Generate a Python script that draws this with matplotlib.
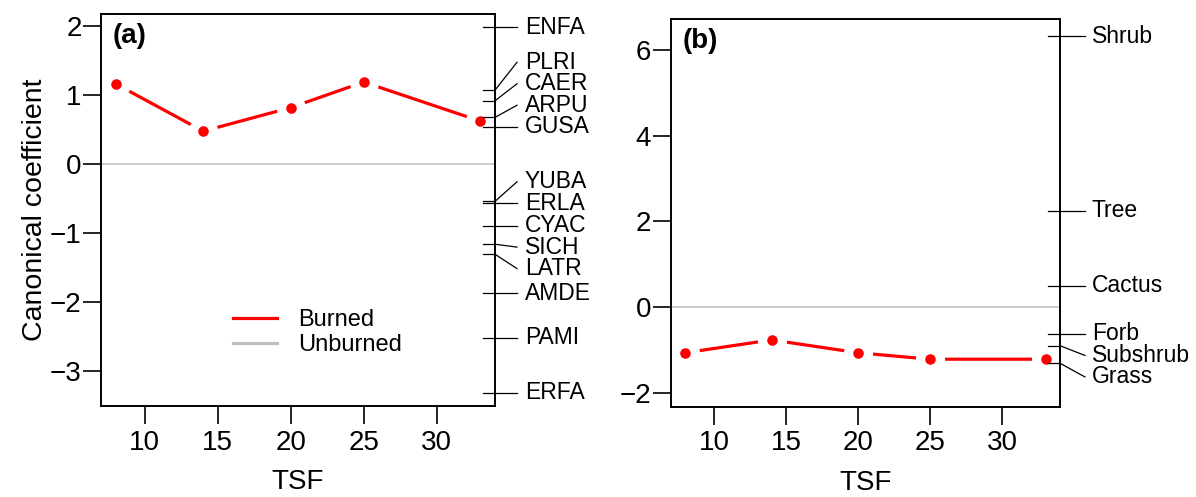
import matplotlib
matplotlib.use('agg')
import matplotlib.pyplot as plt
import matplotlib.transforms as mtransforms
from matplotlib.lines import Line2D

plt.rcParams['font.family'] = ['Liberation Sans', 'DejaVu Sans']

# time since fire (years)
tsf = [8, 14, 20, 25, 33]

# PRC curves, burned vs unburned (unburned is the zero line)
burned_a = [1.16, 0.475, 0.816, 1.186, 0.62]
burned_b = [-1.06, -0.76, -1.06, -1.21, -1.21]

# species weights, panel (a)
species_a = ['ENFA', 'PLRI', 'CAER', 'ARPU', 'GUSA', 'YUBA', 'ERLA',
             'CYAC', 'SICH', 'LATR', 'AMDE', 'PAMI', 'ERFA']
scores_a = [1.975, 1.069, 0.915, 0.675, 0.539, -0.54, -0.568,
            -0.891, -1.16, -1.305, -1.868, -2.51, -3.305]

# growth form weights, panel (b)
groups_b = ['Shrub', 'Tree', 'Cactus', 'Forb', 'Subshrub', 'Grass']
scores_b = [6.32, 2.245, 0.50, -0.622, -0.895, -1.305]

W, H = 1196, 497
fig = plt.figure(figsize=(W / 100, H / 100), dpi=100)


def linestack(vals, ht):
    # same idea as vegan::linestack - spread labels so they dont overlap
    order = sorted(range(len(vals)), key=lambda i: vals[i])
    x = [vals[i] for i in order]
    n = len(x)
    pos = [0.0] * n
    mid = (n + 1) // 2 - 1
    pos[mid] = x[mid]
    for i in range(mid + 1, n):
        pos[i] = max(x[i], pos[i - 1] + ht)
    for i in range(mid - 1, -1, -1):
        pos[i] = min(x[i], pos[i + 1] - ht)
    out = [0.0] * n
    for k, i in enumerate(order):
        out[i] = pos[k]
    return out


def panel(rect, yvals, ylim, yticks, names, scores, tag, conn, txt_off):
    ax = fig.add_axes(rect)
    ax.set_xlim(7, 34)
    ax.set_ylim(*ylim)
    ax.axhline(0, color='#BEBEBE', lw=1.1, zorder=1)
    ax.plot(tsf, yvals, color='red', lw=2.3, zorder=3, solid_capstyle='butt')
    ax.plot(tsf, yvals, 'o', ms=21, color='white', mec='none', zorder=3.1)
    ax.plot(tsf, yvals, 'o', ms=7.6, color='red', mec='none', zorder=3.2)

    ax.set_xticks([10, 15, 20, 25, 30])
    ax.set_yticks(yticks)
    ax.tick_params(axis='both', length=13, width=1.2, labelsize=20)
    ax.tick_params(axis='x', pad=4)
    ax.tick_params(axis='y', pad=1)
    for sp in ax.spines.values():
        sp.set_linewidth(1.4)
        sp.set_zorder(4)
    ax.set_xlabel('TSF', fontsize=20, labelpad=9.5)
    ax.text(0.03, 0.944, tag, transform=ax.transAxes, ha='left', va='center',
            fontsize=20, fontweight='bold')

    # species axis on the right
    axw = rect[2] * W
    axh = rect[3] * H
    ht = 21.5 * (ylim[1] - ylim[0]) / axh
    pos = linestack(scores, ht)
    trans = mtransforms.blended_transform_factory(ax.transAxes, ax.transData)
    for name, s, p in zip(names, scores, pos):
        ax.plot([1 - 12 / axw, 1], [s, s], color='black', lw=0.9,
                transform=trans, clip_on=False, zorder=5)
        ax.plot([1, 1 + conn / axw], [s, p], color='black', lw=0.9,
                transform=trans, clip_on=False, zorder=5)
        ax.text(1 + txt_off / axw, p, name, transform=trans, ha='left',
                va='center', fontsize=16.5)
    return ax


ax1 = panel([101 / W, 1 - 406 / H, 394 / W, 392 / H], burned_a, (-3.50, 2.17),
            [-3, -2, -1, 0, 1, 2], species_a, scores_a, '(a)', 22, 30)
ax1.set_ylabel('Canonical coefficient', fontsize=20.5, labelpad=1)

handles = [Line2D([], [], color='red', lw=2.3),
           Line2D([], [], color='#BEBEBE', lw=2.3)]
ax1.legend(handles, ['Burned', 'Unburned'], loc='center left',
           bbox_to_anchor=((233 - 101) / 394, 1 - (332.5 - 14) / 392),
           frameon=False, fontsize=17, handlelength=1.86, handletextpad=0.89,
           labelspacing=0.13, borderpad=0, borderaxespad=0)

ax2 = panel([670.7 / W, 1 - 406.7 / H, 389.3 / W, 387.7 / H], burned_b, (-2.317, 6.72),
            [-2, 0, 2, 4, 6], groups_b, scores_b, '(b)', 25, 31.7)

fig.savefig('out.png', dpi=100)
